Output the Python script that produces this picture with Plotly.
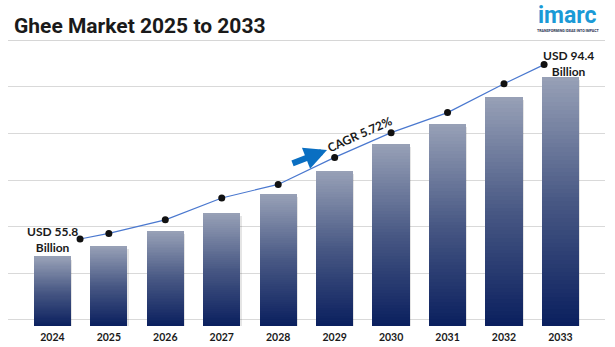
import plotly.graph_objects as go

# ---------------- data ----------------
years = [2024, 2025, 2026, 2027, 2028, 2029, 2030, 2031, 2032, 2033]
tick_labels = ["2024", "2025", "2026", "2027", "2028", "2029", "2030", "2031", "2032", "2033"]
market_value = [55.8, 58.1, 61.3, 65.2, 69.2, 74.2, 80.0, 84.3, 90.1, 94.4]   # USD billion (bars)
trend_value = [59.6, 60.8, 63.7, 68.4, 71.3, 77.1, 82.4, 86.7, 92.9, 97.0]    # trend line points
start_label = "USD 55.8<br>Billion"
end_label = "USD 94.4<br>Billion"
cagr_label = "CAGR 5.72%"
title_text = "Ghee Market 2025 to 2033"

# ---------------- layout helpers ----------------
W, H = 615, 347
ML, MR, MT, MB = 8, 10, 45, 21
PW, PH = W - ML - MR, H - MT - MB
BASE = 40.94            # value at the bottom of the plot area
Y_TOP = 101.2
X_MIN, X_MAX = 2023.2135, 2033.789


def px_x(px):
    return (px - ML) / PW


def px_y(py):
    return (H - MB - py) / PH


def lerp(c1, c2, t):
    return "rgb(%d,%d,%d)" % tuple(round(a + (b - a) * t) for a, b in zip(c1, c2))


BOTTOM_C = (10, 31, 94)
MID_C = (72, 88, 132)
TOP_C = (152, 161, 183)


def grad(t):  # t: 0 bottom -> 1 top
    if t < 0.5:
        return lerp(BOTTOM_C, MID_C, t / 0.5)
    return lerp(MID_C, TOP_C, (t - 0.5) / 0.5)


fig = go.Figure()

# subtle shadow behind bars
fig.add_trace(go.Bar(
    x=years, y=[v - BASE + 0.4 for v in market_value], base=BASE - 1.0,
    width=0.66, offset=-0.31, marker=dict(color="rgba(0,0,0,0.10)", line_width=0),
    hoverinfo="skip", showlegend=False,
))

# gradient bars: each bar is built from thin horizontal slices of its own height
N = 60
for k in range(N):
    t0 = k / N
    fig.add_trace(go.Bar(
        x=years,
        y=[(v - BASE) / N * 1.6 if k < N - 1 else (v - BASE) / N for v in market_value],
        base=[BASE + (v - BASE) * t0 for v in market_value],
        width=0.66,
        marker=dict(color=grad(t0 + 0.5 / N), line_width=0),
        hoverinfo="skip", showlegend=False,
    ))

# trend line (end points drawn just beside the first / last bar)
trend_x = list(years)
trend_x[0] = years[0] + 0.49
trend_x[-1] = years[-1] - 0.29
fig.add_trace(go.Scatter(
    x=trend_x, y=trend_value, mode="lines+markers",
    line=dict(color="#4a78cf", width=1.2),
    marker=dict(color="#111111", size=7),
    hoverinfo="skip", showlegend=False,
))

label_font = dict(family="Lato, 'Open Sans', sans-serif", size=12, color="#1a1a1a")

annotations = [
    dict(text="<b>%s</b>" % title_text, xref="paper", yref="paper", x=px_x(12), y=px_y(25.5),
         xanchor="left", yanchor="middle", showarrow=False,
         font=dict(family="Roboto, Arial, sans-serif", size=21, color="#1a1a1a")),
    dict(text="<b>imarc</b>", xref="paper", yref="paper", x=px_x(567.5), y=px_y(15.5),
         xanchor="center", yanchor="middle", showarrow=False,
         font=dict(family="Roboto, sans-serif", size=23, color="#1b9ad6")),
    dict(text="<b>TRANSFORMING IDEAS INTO IMPACT</b>", xref="paper", yref="paper",
         x=px_x(567.5), y=px_y(31), xanchor="center", yanchor="middle", showarrow=False,
         font=dict(family="Roboto, sans-serif", size=3.6, color="#1c2b4d")),
    dict(text="<b>%s</b>" % start_label, xref="paper", yref="paper", x=px_x(52), y=px_y(239),
         xanchor="center", yanchor="middle", showarrow=False, font=label_font),
    dict(text="<b>%s</b>" % end_label, xref="paper", yref="paper", x=px_x(568.5), y=px_y(63.5),
         xanchor="center", yanchor="middle", showarrow=False, font=label_font),
    dict(text="<b>%s</b>" % cagr_label, xref="paper", yref="paper", x=px_x(359), y=px_y(134),
         xanchor="center", yanchor="middle", showarrow=False, textangle=-24,
         font=dict(family="Lato, 'Open Sans', sans-serif", size=12, color="#1a1a1a")),
    # CAGR arrow
    dict(text="", xref="paper", yref="paper", x=px_x(327), y=px_y(150),
         ax=-36, ay=14, showarrow=True, arrowhead=2, arrowsize=0.75, arrowwidth=6,
         arrowcolor="#0a6fc2", standoff=0, startstandoff=0),
]

fig.update_layout(
    width=W, height=H,
    margin=dict(l=ML, r=MR, t=MT, b=MB, autoexpand=False),
    paper_bgcolor="white", plot_bgcolor="white",
    barmode="overlay", bargap=0,
    showlegend=False,
    annotations=annotations,
    shapes=[dict(type="line", xref="paper", yref="paper", x0=0, x1=1,
                 y0=px_y(40.5), y1=px_y(40.5), line=dict(color="#d6d6d6", width=1))],
    xaxis=dict(range=[X_MIN, X_MAX], tickvals=years, ticktext=tick_labels,
               showgrid=False, zeroline=False, showline=False, ticks="",
               tickfont=dict(family="Lato, 'Open Sans', sans-serif", size=10.5, color="#1a1a1a", weight="bold"),
               ticklabelstandoff=3, fixedrange=True, automargin=False),
    yaxis=dict(range=[BASE, Y_TOP], showticklabels=False, zeroline=False, showline=False,
               tick0=42.23, dtick=10, showgrid=True, gridcolor="#d9d9d9", gridwidth=1,
               fixedrange=True, automargin=False),
)

fig.write_html("out.html", config={"displayModeBar": False})
